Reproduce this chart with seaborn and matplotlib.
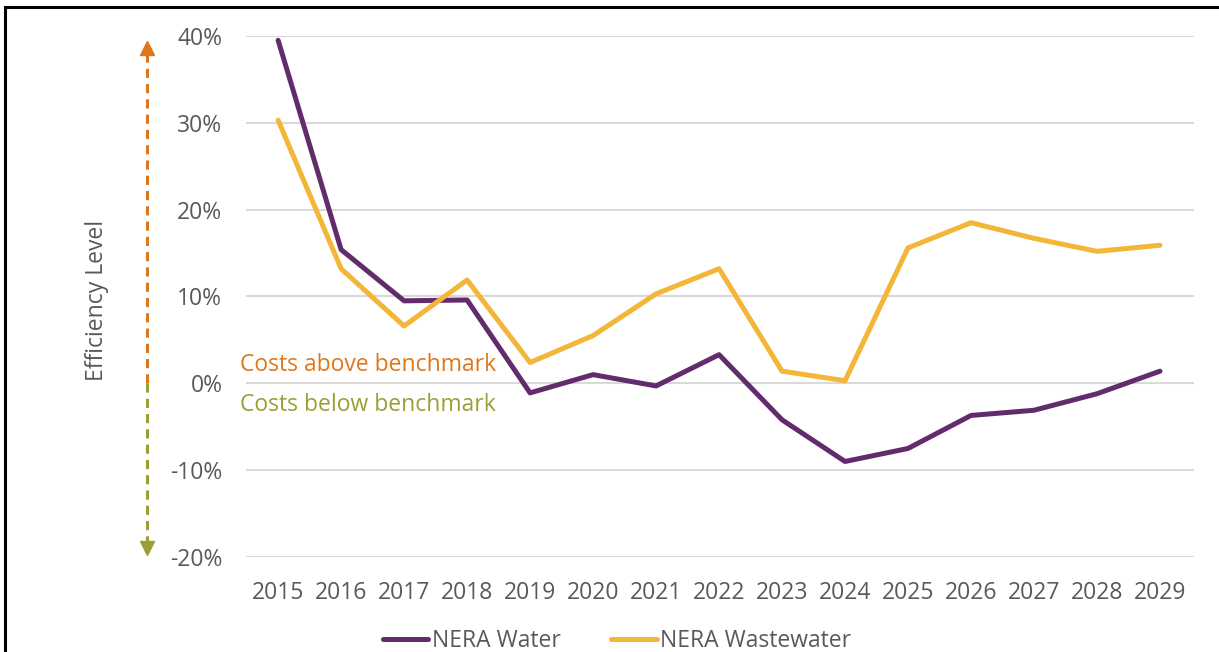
import matplotlib
matplotlib.use("Agg")
import matplotlib.pyplot as plt
import matplotlib.transforms as mtransforms
from matplotlib.patches import Rectangle
from matplotlib.lines import Line2D
import seaborn as sns
import pandas as pd

years = list(range(2015, 2030))
nera_water = [39.5, 15.4, 9.5, 9.6, -1.1, 1.0, -0.3, 3.3, -4.2, -9.0, -7.5, -3.7, -3.1, -1.2, 1.4]
nera_wastewater = [30.3, 13.2, 6.6, 11.9, 2.4, 5.5, 10.3, 13.2, 1.4, 0.3, 15.6, 18.5, 16.7, 15.2, 15.9]
series_names = ["NERA Water", "NERA Wastewater"]
series_colors = ["#622C6C", "#F3B638"]
y_ticks = [-20, -10, 0, 10, 20, 30, 40]
y_label = "Efficiency Level"
above_text = "Costs above benchmark"
below_text = "Costs below benchmark"

df = pd.DataFrame({
    "Year": years * 2,
    "Value": nera_water + nera_wastewater,
    "Series": [series_names[0]] * len(years) + [series_names[1]] * len(years),
})

sns.set_theme(style="white")
plt.rcParams["font.family"] = ["Open Sans", "DejaVu Sans"]

FS = 16.5
W, H = 1219, 652
fig = plt.figure(figsize=(W / 100, H / 100), dpi=100)
ax = fig.add_axes([246 / W, 1 - 557 / H, (1194 - 246) / W, (557 - 36) / H])

sns.lineplot(data=df, x="Year", y="Value", hue="Series", palette=series_colors,
             linewidth=3.6, ax=ax, legend=False)

ax.set_xlim(2014.49, 2029.54)
ax.set_ylim(-20, 40)
ax.set_yticks(y_ticks)
ax.set_yticklabels([f"{v}%" for v in y_ticks])
ax.set_xticks(years)
ax.set_xticklabels([str(y) for y in years])
ax.grid(axis="y", color="#D9D9D9", linewidth=1.5)
ax.set_axisbelow(True)
for s in ax.spines.values():
    s.set_visible(False)
ax.tick_params(axis="both", length=0, labelsize=FS, labelcolor="#595959")
ax.tick_params(axis="y", pad=17)
ax.tick_params(axis="x", pad=17)
ax.set_xlabel("")
ax.set_ylabel("")

# y label
fig.text(97 / W, 1 - 300 / H, y_label, rotation=90, ha="center", va="center",
         fontsize=FS, color="#595959")

# arrows
trans = mtransforms.blended_transform_factory(fig.transFigure, ax.transData)
ax_x = 147 / W
orange = "#E0761A"
olive = "#9A9E35"
ax.plot([ax_x, ax_x], [0, 37.8], transform=trans, clip_on=False, color=orange,
        linestyle=(0, (3, 2)), linewidth=2.2)
ax.plot([ax_x], [38.6], transform=trans, clip_on=False, marker="^", markersize=10,
        color=orange, linestyle="none")
ax.plot([ax_x, ax_x], [0, -18.2], transform=trans, clip_on=False, color=olive,
        linestyle=(0, (3, 2)), linewidth=2.2)
ax.plot([ax_x], [-19.0], transform=trans, clip_on=False, marker="v", markersize=10,
        color=olive, linestyle="none")

ax.text(240 / W, 2.1, above_text, transform=trans, ha="left", va="center",
        fontsize=FS, color=orange)
ax.text(240 / W, -2.5, below_text, transform=trans, ha="left", va="center",
        fontsize=FS, color=olive)

# legend
handles = [Line2D([0], [0], color=c, linewidth=3.6, solid_capstyle="round") for c in series_colors]
fig.legend(handles, series_names, loc="center", bbox_to_anchor=(617 / W, 1 - 641 / H),
           ncol=2, frameon=False, fontsize=FS, handlelength=2.0, handletextpad=0.15,
           columnspacing=2.2, labelcolor="#595959")

# border
fig.patches.append(Rectangle((5 / W, -0.2), 1.5, 1.2 - 7 / H, transform=fig.transFigure,
                             fill=False, edgecolor="black", linewidth=2.2, zorder=10))

fig.savefig("out.png", dpi=100)
